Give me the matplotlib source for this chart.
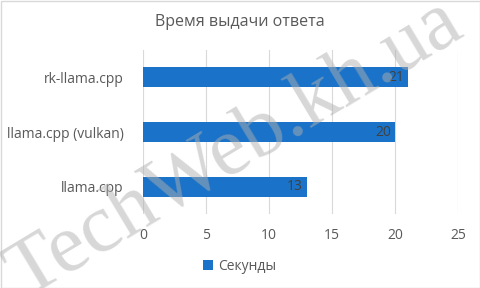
import matplotlib
matplotlib.use("Agg")
import matplotlib.pyplot as plt
from matplotlib.patches import Rectangle

categories = ["llama.cpp", "llama.cpp (vulkan)", "rk-llama.cpp"]
values = [13, 20, 21]
series_name = "Секунды"
title = "Время выдачи ответа"
xticks = [0, 5, 10, 15, 20, 25]

plt.rcParams['font.family'] = ['Open Sans', 'DejaVu Sans']
txt = '#595959'
bar_color = '#1a73c8'

fig = plt.figure(figsize=(4.8, 2.88), dpi=100)
ax = fig.add_axes([143/480, 1-214/288, (458-143)/480, (214-50)/288])

ypos = list(range(len(categories)))
bars = ax.barh(ypos, values, height=0.36, color=bar_color, label=series_name, zorder=3)
for y, v in zip(ypos, values):
    ax.text(v - 0.3, y, str(v), ha='right', va='center', fontsize=10, color='#404040', zorder=4)

ax.set_xlim(0, 25)
ax.set_ylim(-0.5, len(categories) - 0.5)
ax.set_xticks(xticks)
ax.set_yticks(ypos)
ax.set_yticklabels(categories)
ax.tick_params(axis='both', length=0, labelsize=10, colors=txt)
ax.tick_params(axis='x', pad=10)
ax.tick_params(axis='y', pad=14)
ax.grid(axis='x', color='#d9d9d9', linewidth=0.8, zorder=0)
for s in ax.spines.values():
    s.set_visible(False)

fig.text(0.5, 1-22/288, title, ha='center', va='center', fontsize=11.5, color=txt)

leg = fig.legend(handles=[bars], labels=[series_name], loc='center', bbox_to_anchor=(0.5, 1-266/288),
                 frameon=False, fontsize=10, handlelength=0.7, handleheight=0.7, handletextpad=0.4,
                 labelcolor=txt)

fig.patches.append(Rectangle((0.5/480, 0.5/288), 1-1/480, 1-1/288, transform=fig.transFigure,
                             fill=False, edgecolor='#d9d9d9', linewidth=1))

fig.text(0.49, 0.48, "TechWeb.kh.ua", ha='center', va='center', rotation=31,
         fontsize=60, family='Liberation Serif', color='#b0b0b0', alpha=0.5, zorder=10)

fig.savefig("out.png", dpi=100)
